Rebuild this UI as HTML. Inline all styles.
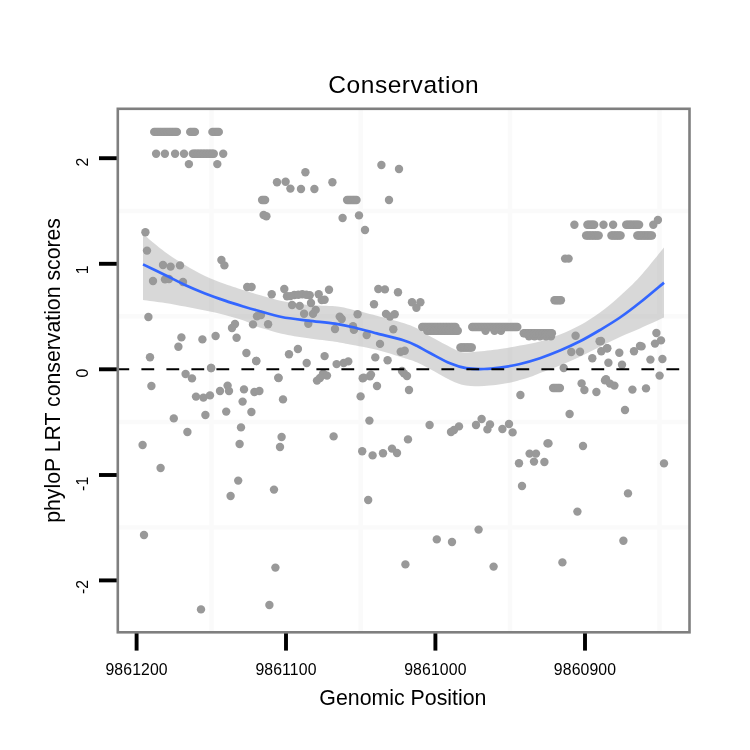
<!DOCTYPE html>
<html><head><meta charset="utf-8"><title>Conservation</title>
<style>
html,body{margin:0;padding:0;background:#fff;}
body{width:750px;height:750px;overflow:hidden;font-family:"Liberation Sans",sans-serif;}
svg{display:block;will-change:transform;}
text{font-family:"Liberation Sans",sans-serif;fill:#000;}
</style></head><body>
<svg width="750" height="750" viewBox="0 0 750 750">
<rect width="750" height="750" fill="#ffffff"/>
<g stroke="#fafafa" stroke-width="4.4"><line x1="211.5" y1="108.8" x2="211.5" y2="632.3"/><line x1="360.7" y1="108.8" x2="360.7" y2="632.3"/><line x1="510" y1="108.8" x2="510" y2="632.3"/><line x1="659.5" y1="108.8" x2="659.5" y2="632.3"/><line x1="117.8" y1="211" x2="689.5" y2="211"/><line x1="117.8" y1="316.3" x2="689.5" y2="316.3"/><line x1="117.8" y1="422" x2="689.5" y2="422"/><line x1="117.8" y1="527.4" x2="689.5" y2="527.4"/></g>
<g fill="#999999"><circle cx="156.1" cy="153.7" r="4.2"/><circle cx="164.9" cy="153.7" r="4.2"/><circle cx="175.1" cy="153.7" r="4.2"/><circle cx="184.0" cy="153.7" r="4.2"/><circle cx="223.2" cy="153.7" r="4.2"/><circle cx="188.9" cy="164.1" r="4.2"/><circle cx="217.3" cy="164.1" r="4.2"/><circle cx="154.2" cy="131.9" r="4.2"/><circle cx="155.7" cy="131.9" r="4.2"/><circle cx="157.2" cy="131.9" r="4.2"/><circle cx="158.7" cy="131.9" r="4.2"/><circle cx="160.2" cy="131.9" r="4.2"/><circle cx="161.7" cy="131.9" r="4.2"/><circle cx="163.3" cy="131.9" r="4.2"/><circle cx="164.8" cy="131.9" r="4.2"/><circle cx="166.3" cy="131.9" r="4.2"/><circle cx="167.8" cy="131.9" r="4.2"/><circle cx="169.3" cy="131.9" r="4.2"/><circle cx="170.8" cy="131.9" r="4.2"/><circle cx="172.4" cy="131.9" r="4.2"/><circle cx="173.9" cy="131.9" r="4.2"/><circle cx="175.4" cy="131.9" r="4.2"/><circle cx="176.9" cy="131.9" r="4.2"/><circle cx="190.2" cy="131.9" r="4.2"/><circle cx="191.7" cy="131.9" r="4.2"/><circle cx="193.3" cy="131.9" r="4.2"/><circle cx="194.9" cy="131.9" r="4.2"/><circle cx="212.4" cy="131.9" r="4.2"/><circle cx="214.0" cy="131.9" r="4.2"/><circle cx="215.6" cy="131.9" r="4.2"/><circle cx="217.2" cy="131.9" r="4.2"/><circle cx="218.8" cy="131.9" r="4.2"/><circle cx="192.8" cy="153.7" r="4.2"/><circle cx="194.3" cy="153.7" r="4.2"/><circle cx="195.8" cy="153.7" r="4.2"/><circle cx="197.3" cy="153.7" r="4.2"/><circle cx="198.8" cy="153.7" r="4.2"/><circle cx="200.3" cy="153.7" r="4.2"/><circle cx="201.8" cy="153.7" r="4.2"/><circle cx="203.3" cy="153.7" r="4.2"/><circle cx="204.8" cy="153.7" r="4.2"/><circle cx="206.3" cy="153.7" r="4.2"/><circle cx="207.8" cy="153.7" r="4.2"/><circle cx="209.3" cy="153.7" r="4.2"/><circle cx="210.8" cy="153.7" r="4.2"/><circle cx="212.3" cy="153.7" r="4.2"/><circle cx="213.8" cy="153.7" r="4.2"/><circle cx="381.4" cy="165.0" r="4.2"/><circle cx="399.0" cy="169.0" r="4.2"/><circle cx="305.4" cy="172.2" r="4.2"/><circle cx="277.0" cy="182.2" r="4.2"/><circle cx="285.6" cy="181.8" r="4.2"/><circle cx="332.4" cy="182.2" r="4.2"/><circle cx="290.4" cy="188.6" r="4.2"/><circle cx="301.0" cy="189.0" r="4.2"/><circle cx="314.4" cy="189.0" r="4.2"/><circle cx="389.0" cy="200.0" r="4.2"/><circle cx="263.6" cy="215.0" r="4.2"/><circle cx="266.4" cy="216.2" r="4.2"/><circle cx="359.0" cy="215.4" r="4.2"/><circle cx="342.6" cy="218.0" r="4.2"/><circle cx="365.0" cy="230.0" r="4.2"/><circle cx="262.1" cy="200.0" r="4.2"/><circle cx="263.6" cy="200.0" r="4.2"/><circle cx="265.1" cy="200.0" r="4.2"/><circle cx="347.1" cy="200.0" r="4.2"/><circle cx="348.7" cy="200.0" r="4.2"/><circle cx="350.2" cy="200.0" r="4.2"/><circle cx="351.8" cy="200.0" r="4.2"/><circle cx="353.4" cy="200.0" r="4.2"/><circle cx="354.9" cy="200.0" r="4.2"/><circle cx="356.5" cy="200.0" r="4.2"/><circle cx="574.4" cy="224.8" r="4.2"/><circle cx="603.5" cy="224.8" r="4.2"/><circle cx="613.1" cy="224.8" r="4.2"/><circle cx="653.3" cy="224.8" r="4.2"/><circle cx="657.9" cy="220.0" r="4.2"/><circle cx="565.1" cy="258.6" r="4.2"/><circle cx="568.6" cy="258.6" r="4.2"/><circle cx="587.4" cy="224.8" r="4.2"/><circle cx="588.7" cy="224.8" r="4.2"/><circle cx="590.1" cy="224.8" r="4.2"/><circle cx="591.5" cy="224.8" r="4.2"/><circle cx="592.9" cy="224.8" r="4.2"/><circle cx="594.2" cy="224.8" r="4.2"/><circle cx="626.2" cy="224.8" r="4.2"/><circle cx="627.7" cy="224.8" r="4.2"/><circle cx="629.1" cy="224.8" r="4.2"/><circle cx="630.5" cy="224.8" r="4.2"/><circle cx="631.9" cy="224.8" r="4.2"/><circle cx="633.4" cy="224.8" r="4.2"/><circle cx="634.8" cy="224.8" r="4.2"/><circle cx="636.2" cy="224.8" r="4.2"/><circle cx="637.6" cy="224.8" r="4.2"/><circle cx="639.1" cy="224.8" r="4.2"/><circle cx="586.1" cy="235.5" r="4.2"/><circle cx="587.7" cy="235.5" r="4.2"/><circle cx="589.2" cy="235.5" r="4.2"/><circle cx="590.8" cy="235.5" r="4.2"/><circle cx="592.4" cy="235.5" r="4.2"/><circle cx="594.0" cy="235.5" r="4.2"/><circle cx="595.6" cy="235.5" r="4.2"/><circle cx="597.1" cy="235.5" r="4.2"/><circle cx="598.7" cy="235.5" r="4.2"/><circle cx="611.4" cy="235.5" r="4.2"/><circle cx="612.9" cy="235.5" r="4.2"/><circle cx="614.5" cy="235.5" r="4.2"/><circle cx="616.0" cy="235.5" r="4.2"/><circle cx="617.5" cy="235.5" r="4.2"/><circle cx="619.1" cy="235.5" r="4.2"/><circle cx="620.6" cy="235.5" r="4.2"/><circle cx="637.3" cy="235.5" r="4.2"/><circle cx="638.7" cy="235.5" r="4.2"/><circle cx="640.2" cy="235.5" r="4.2"/><circle cx="641.6" cy="235.5" r="4.2"/><circle cx="643.1" cy="235.5" r="4.2"/><circle cx="644.6" cy="235.5" r="4.2"/><circle cx="646.0" cy="235.5" r="4.2"/><circle cx="647.5" cy="235.5" r="4.2"/><circle cx="648.9" cy="235.5" r="4.2"/><circle cx="650.4" cy="235.5" r="4.2"/><circle cx="651.9" cy="235.5" r="4.2"/><circle cx="145.4" cy="232.2" r="4.2"/><circle cx="147.0" cy="250.6" r="4.2"/><circle cx="163.0" cy="265.0" r="4.2"/><circle cx="170.6" cy="266.6" r="4.2"/><circle cx="180.0" cy="265.4" r="4.2"/><circle cx="153.0" cy="281.0" r="4.2"/><circle cx="165.0" cy="279.4" r="4.2"/><circle cx="169.0" cy="279.0" r="4.2"/><circle cx="183.0" cy="282.0" r="4.2"/><circle cx="221.4" cy="260.0" r="4.2"/><circle cx="224.4" cy="265.4" r="4.2"/><circle cx="247.2" cy="287.0" r="4.2"/><circle cx="251.6" cy="287.0" r="4.2"/><circle cx="148.4" cy="317.0" r="4.2"/><circle cx="253.0" cy="324.4" r="4.2"/><circle cx="235.0" cy="324.0" r="4.2"/><circle cx="232.0" cy="328.0" r="4.2"/><circle cx="181.4" cy="337.4" r="4.2"/><circle cx="202.4" cy="339.4" r="4.2"/><circle cx="215.6" cy="336.0" r="4.2"/><circle cx="236.6" cy="337.8" r="4.2"/><circle cx="178.4" cy="346.8" r="4.2"/><circle cx="246.4" cy="353.0" r="4.2"/><circle cx="150.0" cy="357.2" r="4.2"/><circle cx="256.2" cy="361.0" r="4.2"/><circle cx="211.0" cy="368.0" r="4.2"/><circle cx="271.7" cy="294.3" r="4.2"/><circle cx="284.3" cy="289.0" r="4.2"/><circle cx="287.0" cy="296.3" r="4.2"/><circle cx="294.3" cy="295.0" r="4.2"/><circle cx="302.3" cy="294.3" r="4.2"/><circle cx="309.7" cy="295.3" r="4.2"/><circle cx="311.0" cy="303.0" r="4.2"/><circle cx="318.7" cy="294.3" r="4.2"/><circle cx="321.7" cy="300.1" r="4.2"/><circle cx="324.6" cy="299.8" r="4.2"/><circle cx="329.0" cy="289.7" r="4.2"/><circle cx="292.1" cy="305.0" r="4.2"/><circle cx="299.7" cy="305.9" r="4.2"/><circle cx="315.7" cy="309.9" r="4.2"/><circle cx="313.0" cy="313.9" r="4.2"/><circle cx="304.1" cy="313.7" r="4.2"/><circle cx="308.3" cy="323.7" r="4.2"/><circle cx="339.7" cy="316.6" r="4.2"/><circle cx="341.7" cy="319.0" r="4.2"/><circle cx="335.0" cy="329.0" r="4.2"/><circle cx="353.0" cy="326.3" r="4.2"/><circle cx="353.9" cy="329.9" r="4.2"/><circle cx="257.0" cy="316.3" r="4.2"/><circle cx="261.0" cy="315.0" r="4.2"/><circle cx="268.1" cy="324.3" r="4.2"/><circle cx="290.3" cy="296.1" r="4.2"/><circle cx="298.3" cy="294.7" r="4.2"/><circle cx="306.3" cy="294.7" r="4.2"/><circle cx="297.9" cy="349.0" r="4.2"/><circle cx="289.0" cy="354.3" r="4.2"/><circle cx="324.6" cy="356.1" r="4.2"/><circle cx="306.7" cy="363.0" r="4.2"/><circle cx="256.3" cy="361.0" r="4.2"/><circle cx="336.6" cy="364.1" r="4.2"/><circle cx="343.7" cy="363.0" r="4.2"/><circle cx="348.3" cy="361.4" r="4.2"/><circle cx="323.0" cy="373.7" r="4.2"/><circle cx="278.3" cy="377.7" r="4.2"/><circle cx="378.3" cy="289.0" r="4.2"/><circle cx="384.9" cy="289.4" r="4.2"/><circle cx="398.0" cy="292.3" r="4.2"/><circle cx="374.0" cy="304.3" r="4.2"/><circle cx="412.0" cy="302.3" r="4.2"/><circle cx="420.4" cy="302.3" r="4.2"/><circle cx="416.4" cy="307.7" r="4.2"/><circle cx="357.6" cy="314.3" r="4.2"/><circle cx="386.0" cy="313.9" r="4.2"/><circle cx="394.7" cy="314.3" r="4.2"/><circle cx="390.0" cy="316.6" r="4.2"/><circle cx="393.3" cy="329.3" r="4.2"/><circle cx="366.7" cy="335.0" r="4.2"/><circle cx="380.0" cy="343.9" r="4.2"/><circle cx="400.7" cy="351.7" r="4.2"/><circle cx="404.7" cy="350.7" r="4.2"/><circle cx="375.3" cy="357.4" r="4.2"/><circle cx="387.6" cy="360.3" r="4.2"/><circle cx="370.0" cy="376.3" r="4.2"/><circle cx="404.0" cy="373.4" r="4.2"/><circle cx="362.7" cy="378.3" r="4.2"/><circle cx="485.5" cy="330.7" r="4.2"/><circle cx="494.5" cy="330.7" r="4.2"/><circle cx="501.0" cy="330.7" r="4.2"/><circle cx="529.0" cy="336.2" r="4.2"/><circle cx="534.5" cy="336.2" r="4.2"/><circle cx="540.0" cy="336.2" r="4.2"/><circle cx="551.0" cy="336.4" r="4.2"/><circle cx="546.0" cy="336.2" r="4.2"/><circle cx="422.2" cy="327.0" r="4.2"/><circle cx="423.7" cy="327.0" r="4.2"/><circle cx="425.2" cy="327.0" r="4.2"/><circle cx="426.7" cy="327.0" r="4.2"/><circle cx="428.3" cy="327.0" r="4.2"/><circle cx="429.8" cy="327.0" r="4.2"/><circle cx="431.3" cy="327.0" r="4.2"/><circle cx="432.8" cy="327.0" r="4.2"/><circle cx="434.3" cy="327.0" r="4.2"/><circle cx="435.8" cy="327.0" r="4.2"/><circle cx="437.3" cy="327.0" r="4.2"/><circle cx="438.9" cy="327.0" r="4.2"/><circle cx="440.4" cy="327.0" r="4.2"/><circle cx="441.9" cy="327.0" r="4.2"/><circle cx="443.4" cy="327.0" r="4.2"/><circle cx="444.9" cy="327.0" r="4.2"/><circle cx="446.4" cy="327.0" r="4.2"/><circle cx="447.9" cy="327.0" r="4.2"/><circle cx="449.4" cy="327.0" r="4.2"/><circle cx="451.0" cy="327.0" r="4.2"/><circle cx="452.5" cy="327.0" r="4.2"/><circle cx="454.0" cy="327.0" r="4.2"/><circle cx="455.5" cy="327.0" r="4.2"/><circle cx="427.2" cy="330.7" r="4.2"/><circle cx="428.7" cy="330.7" r="4.2"/><circle cx="430.3" cy="330.7" r="4.2"/><circle cx="431.8" cy="330.7" r="4.2"/><circle cx="433.3" cy="330.7" r="4.2"/><circle cx="434.9" cy="330.7" r="4.2"/><circle cx="436.4" cy="330.7" r="4.2"/><circle cx="437.9" cy="330.7" r="4.2"/><circle cx="439.4" cy="330.7" r="4.2"/><circle cx="441.0" cy="330.7" r="4.2"/><circle cx="442.5" cy="330.7" r="4.2"/><circle cx="444.0" cy="330.7" r="4.2"/><circle cx="445.6" cy="330.7" r="4.2"/><circle cx="447.1" cy="330.7" r="4.2"/><circle cx="448.6" cy="330.7" r="4.2"/><circle cx="450.1" cy="330.7" r="4.2"/><circle cx="451.7" cy="330.7" r="4.2"/><circle cx="453.2" cy="330.7" r="4.2"/><circle cx="454.7" cy="330.7" r="4.2"/><circle cx="456.3" cy="330.7" r="4.2"/><circle cx="457.8" cy="330.7" r="4.2"/><circle cx="460.4" cy="347.5" r="4.2"/><circle cx="461.8" cy="347.5" r="4.2"/><circle cx="463.2" cy="347.5" r="4.2"/><circle cx="464.7" cy="347.5" r="4.2"/><circle cx="466.1" cy="347.5" r="4.2"/><circle cx="467.5" cy="347.5" r="4.2"/><circle cx="468.9" cy="347.5" r="4.2"/><circle cx="470.4" cy="347.5" r="4.2"/><circle cx="471.8" cy="347.5" r="4.2"/><circle cx="472.2" cy="327.0" r="4.2"/><circle cx="473.7" cy="327.0" r="4.2"/><circle cx="475.2" cy="327.0" r="4.2"/><circle cx="476.7" cy="327.0" r="4.2"/><circle cx="478.2" cy="327.0" r="4.2"/><circle cx="479.7" cy="327.0" r="4.2"/><circle cx="481.2" cy="327.0" r="4.2"/><circle cx="482.7" cy="327.0" r="4.2"/><circle cx="484.2" cy="327.0" r="4.2"/><circle cx="485.7" cy="327.0" r="4.2"/><circle cx="487.2" cy="327.0" r="4.2"/><circle cx="488.7" cy="327.0" r="4.2"/><circle cx="490.2" cy="327.0" r="4.2"/><circle cx="491.7" cy="327.0" r="4.2"/><circle cx="493.2" cy="327.0" r="4.2"/><circle cx="494.8" cy="327.0" r="4.2"/><circle cx="496.3" cy="327.0" r="4.2"/><circle cx="497.8" cy="327.0" r="4.2"/><circle cx="499.3" cy="327.0" r="4.2"/><circle cx="500.8" cy="327.0" r="4.2"/><circle cx="502.3" cy="327.0" r="4.2"/><circle cx="503.8" cy="327.0" r="4.2"/><circle cx="505.3" cy="327.0" r="4.2"/><circle cx="506.8" cy="327.0" r="4.2"/><circle cx="508.3" cy="327.0" r="4.2"/><circle cx="509.8" cy="327.0" r="4.2"/><circle cx="511.3" cy="327.0" r="4.2"/><circle cx="512.8" cy="327.0" r="4.2"/><circle cx="514.3" cy="327.0" r="4.2"/><circle cx="515.8" cy="327.0" r="4.2"/><circle cx="517.3" cy="327.0" r="4.2"/><circle cx="523.7" cy="333.3" r="4.2"/><circle cx="525.2" cy="333.3" r="4.2"/><circle cx="526.7" cy="333.3" r="4.2"/><circle cx="528.2" cy="333.3" r="4.2"/><circle cx="529.6" cy="333.3" r="4.2"/><circle cx="531.1" cy="333.3" r="4.2"/><circle cx="532.6" cy="333.3" r="4.2"/><circle cx="534.1" cy="333.3" r="4.2"/><circle cx="535.6" cy="333.3" r="4.2"/><circle cx="537.1" cy="333.3" r="4.2"/><circle cx="538.5" cy="333.3" r="4.2"/><circle cx="540.0" cy="333.3" r="4.2"/><circle cx="541.5" cy="333.3" r="4.2"/><circle cx="543.0" cy="333.3" r="4.2"/><circle cx="544.5" cy="333.3" r="4.2"/><circle cx="546.0" cy="333.3" r="4.2"/><circle cx="547.4" cy="333.3" r="4.2"/><circle cx="548.9" cy="333.3" r="4.2"/><circle cx="550.4" cy="333.3" r="4.2"/><circle cx="551.9" cy="333.3" r="4.2"/><circle cx="575.6" cy="335.7" r="4.2"/><circle cx="599.6" cy="341.3" r="4.2"/><circle cx="571.3" cy="352.0" r="4.2"/><circle cx="580.0" cy="351.7" r="4.2"/><circle cx="601.3" cy="351.3" r="4.2"/><circle cx="607.3" cy="348.3" r="4.2"/><circle cx="619.3" cy="352.7" r="4.2"/><circle cx="634.0" cy="351.3" r="4.2"/><circle cx="640.0" cy="346.0" r="4.2"/><circle cx="592.3" cy="358.3" r="4.2"/><circle cx="608.4" cy="362.7" r="4.2"/><circle cx="622.0" cy="364.7" r="4.2"/><circle cx="563.7" cy="368.0" r="4.2"/><circle cx="606.0" cy="379.3" r="4.2"/><circle cx="554.5" cy="300.3" r="4.2"/><circle cx="556.1" cy="300.3" r="4.2"/><circle cx="557.7" cy="300.3" r="4.2"/><circle cx="559.3" cy="300.3" r="4.2"/><circle cx="560.9" cy="300.3" r="4.2"/><circle cx="656.4" cy="333.0" r="4.2"/><circle cx="661.0" cy="340.4" r="4.2"/><circle cx="655.0" cy="343.6" r="4.2"/><circle cx="641.6" cy="346.4" r="4.2"/><circle cx="607.0" cy="348.4" r="4.2"/><circle cx="601.0" cy="341.0" r="4.2"/><circle cx="650.4" cy="359.6" r="4.2"/><circle cx="662.4" cy="359.0" r="4.2"/><circle cx="659.6" cy="375.6" r="4.2"/><circle cx="211.2" cy="368.0" r="4.2"/><circle cx="185.6" cy="374.0" r="4.2"/><circle cx="192.0" cy="378.4" r="4.2"/><circle cx="151.4" cy="386.0" r="4.2"/><circle cx="227.6" cy="385.6" r="4.2"/><circle cx="229.0" cy="391.0" r="4.2"/><circle cx="220.0" cy="391.0" r="4.2"/><circle cx="244.0" cy="389.4" r="4.2"/><circle cx="254.4" cy="392.0" r="4.2"/><circle cx="259.4" cy="391.0" r="4.2"/><circle cx="196.0" cy="396.6" r="4.2"/><circle cx="203.4" cy="397.6" r="4.2"/><circle cx="210.0" cy="395.4" r="4.2"/><circle cx="242.6" cy="401.6" r="4.2"/><circle cx="226.2" cy="411.6" r="4.2"/><circle cx="251.4" cy="412.0" r="4.2"/><circle cx="205.4" cy="415.0" r="4.2"/><circle cx="173.8" cy="418.4" r="4.2"/><circle cx="241.0" cy="427.4" r="4.2"/><circle cx="187.4" cy="432.0" r="4.2"/><circle cx="142.6" cy="445.0" r="4.2"/><circle cx="239.6" cy="444.0" r="4.2"/><circle cx="160.6" cy="468.0" r="4.2"/><circle cx="238.2" cy="480.6" r="4.2"/><circle cx="230.6" cy="496.0" r="4.2"/><circle cx="278.6" cy="378.0" r="4.2"/><circle cx="324.0" cy="374.4" r="4.2"/><circle cx="327.0" cy="375.6" r="4.2"/><circle cx="320.0" cy="378.0" r="4.2"/><circle cx="317.0" cy="380.6" r="4.2"/><circle cx="371.0" cy="374.6" r="4.2"/><circle cx="363.6" cy="377.6" r="4.2"/><circle cx="402.0" cy="371.0" r="4.2"/><circle cx="407.0" cy="376.0" r="4.2"/><circle cx="377.0" cy="386.0" r="4.2"/><circle cx="409.0" cy="390.0" r="4.2"/><circle cx="283.0" cy="399.4" r="4.2"/><circle cx="360.6" cy="396.4" r="4.2"/><circle cx="369.4" cy="420.6" r="4.2"/><circle cx="281.6" cy="437.0" r="4.2"/><circle cx="280.0" cy="447.0" r="4.2"/><circle cx="333.6" cy="436.4" r="4.2"/><circle cx="408.0" cy="439.4" r="4.2"/><circle cx="362.2" cy="451.2" r="4.2"/><circle cx="372.6" cy="455.4" r="4.2"/><circle cx="383.0" cy="453.2" r="4.2"/><circle cx="392.0" cy="448.6" r="4.2"/><circle cx="397.0" cy="453.0" r="4.2"/><circle cx="274.0" cy="489.6" r="4.2"/><circle cx="368.2" cy="500.0" r="4.2"/><circle cx="520.4" cy="395.0" r="4.2"/><circle cx="429.6" cy="425.0" r="4.2"/><circle cx="459.0" cy="426.4" r="4.2"/><circle cx="454.0" cy="430.0" r="4.2"/><circle cx="451.0" cy="432.0" r="4.2"/><circle cx="481.6" cy="419.0" r="4.2"/><circle cx="476.0" cy="425.0" r="4.2"/><circle cx="490.0" cy="424.4" r="4.2"/><circle cx="487.4" cy="429.4" r="4.2"/><circle cx="509.0" cy="424.0" r="4.2"/><circle cx="502.4" cy="429.0" r="4.2"/><circle cx="512.6" cy="432.4" r="4.2"/><circle cx="529.6" cy="453.6" r="4.2"/><circle cx="536.0" cy="453.6" r="4.2"/><circle cx="534.0" cy="461.6" r="4.2"/><circle cx="544.4" cy="462.0" r="4.2"/><circle cx="519.0" cy="463.2" r="4.2"/><circle cx="522.0" cy="486.0" r="4.2"/><circle cx="581.6" cy="383.4" r="4.2"/><circle cx="584.4" cy="390.0" r="4.2"/><circle cx="596.4" cy="392.0" r="4.2"/><circle cx="605.0" cy="380.4" r="4.2"/><circle cx="610.0" cy="383.6" r="4.2"/><circle cx="614.4" cy="385.6" r="4.2"/><circle cx="632.4" cy="389.6" r="4.2"/><circle cx="646.0" cy="388.4" r="4.2"/><circle cx="569.6" cy="414.0" r="4.2"/><circle cx="625.0" cy="410.0" r="4.2"/><circle cx="583.0" cy="446.0" r="4.2"/><circle cx="664.0" cy="463.4" r="4.2"/><circle cx="628.0" cy="493.4" r="4.2"/><circle cx="577.4" cy="511.6" r="4.2"/><circle cx="553.1" cy="388.0" r="4.2"/><circle cx="554.8" cy="388.0" r="4.2"/><circle cx="556.5" cy="388.0" r="4.2"/><circle cx="558.2" cy="388.0" r="4.2"/><circle cx="559.9" cy="388.0" r="4.2"/><circle cx="547.5" cy="443.4" r="4.2"/><circle cx="548.5" cy="443.4" r="4.2"/><circle cx="144.0" cy="535.0" r="4.2"/><circle cx="201.0" cy="609.4" r="4.2"/><circle cx="275.4" cy="567.6" r="4.2"/><circle cx="269.4" cy="605.0" r="4.2"/><circle cx="405.4" cy="564.4" r="4.2"/><circle cx="436.8" cy="539.4" r="4.2"/><circle cx="452.0" cy="542.0" r="4.2"/><circle cx="478.6" cy="529.6" r="4.2"/><circle cx="493.6" cy="566.6" r="4.2"/><circle cx="623.4" cy="540.8" r="4.2"/><circle cx="562.4" cy="562.4" r="4.2"/></g>
<path d="M143.0,234.0 C146.7,237.0 158.0,246.8 165.0,252.0 C172.0,257.2 178.3,261.0 185.0,265.0 C191.7,269.0 198.3,272.8 205.0,276.0 C211.7,279.2 218.3,281.6 225.0,284.0 C231.7,286.4 240.0,289.0 245.0,290.6 C250.0,292.2 248.9,292.0 255.0,293.7 C261.1,295.4 272.8,299.1 281.7,301.0 C290.6,302.9 299.4,304.1 308.3,305.0 C317.2,305.9 328.1,305.6 335.0,306.3 C341.9,307.0 343.1,307.4 350.0,309.0 C356.9,310.6 367.8,313.4 376.7,315.7 C385.6,318.0 396.6,320.9 403.3,323.0 C410.0,325.1 412.2,326.1 416.7,328.3 C421.1,330.5 424.4,333.2 430.0,336.3 C435.6,339.4 444.7,344.4 450.0,347.0 C455.3,349.6 457.7,351.4 462.0,352.2 C466.3,353.0 469.7,352.3 476.0,351.8 C482.3,351.3 492.7,350.0 500.0,349.0 C507.3,348.0 513.3,346.9 520.0,345.6 C526.7,344.4 533.3,343.4 540.0,341.5 C546.7,339.6 553.3,337.2 560.0,334.5 C566.7,331.8 573.3,329.0 580.0,325.3 C586.7,321.6 593.3,317.4 600.0,312.5 C606.7,307.6 613.3,302.0 620.0,296.0 C626.7,290.0 632.7,284.6 640.0,276.5 C647.3,268.4 660.0,252.4 664.0,247.6 L664.0,317.6 C660.0,319.4 647.3,325.3 640.0,328.5 C632.7,331.7 626.7,333.9 620.0,337.0 C613.3,340.1 606.7,343.5 600.0,346.8 C593.3,350.1 586.7,353.6 580.0,356.7 C573.3,359.8 566.7,362.8 560.0,365.5 C553.3,368.2 545.0,371.1 540.0,373.0 C535.0,374.9 535.3,375.3 530.0,377.0 C524.7,378.7 515.7,381.5 508.0,383.0 C500.3,384.5 491.0,385.6 484.0,386.0 C477.0,386.4 471.7,386.6 466.0,385.6 C460.3,384.6 456.0,382.8 450.0,380.0 C444.0,377.2 435.6,371.9 430.0,369.0 C424.4,366.1 421.1,364.2 416.7,362.3 C412.2,360.4 410.0,359.8 403.3,357.7 C396.6,355.6 385.6,351.9 376.7,349.7 C367.8,347.5 356.9,345.8 350.0,344.5 C343.1,343.2 341.9,342.7 335.0,341.7 C328.1,340.7 317.2,339.6 308.3,338.3 C299.4,337.0 288.9,335.2 281.7,333.7 C274.5,332.1 269.4,330.3 265.0,329.0 C260.6,327.7 258.3,327.3 255.0,326.0 C251.7,324.7 250.0,322.8 245.0,321.0 C240.0,319.2 231.7,316.7 225.0,315.0 C218.3,313.3 211.7,312.0 205.0,310.6 C198.3,309.2 191.7,307.9 185.0,306.6 C178.3,305.3 172.0,304.1 165.0,303.0 C158.0,301.9 146.7,300.5 143.0,300.0 Z" fill="#999999" fill-opacity="0.38"/>
<path d="M143.0,264.4 C146.7,266.2 158.0,271.6 165.0,275.0 C172.0,278.4 178.3,281.9 185.0,285.0 C191.7,288.1 198.3,290.8 205.0,293.4 C211.7,296.0 218.3,298.3 225.0,300.6 C231.7,302.9 239.2,305.2 245.0,307.0 C250.8,308.8 253.9,309.6 260.0,311.3 C266.1,313.0 273.6,315.4 281.7,317.0 C289.8,318.6 299.4,319.5 308.3,320.6 C317.2,321.7 327.7,322.6 335.0,323.7 C342.3,324.8 345.1,325.4 352.0,327.0 C358.9,328.6 368.1,331.2 376.7,333.4 C385.2,335.6 396.6,338.2 403.3,340.3 C410.0,342.4 412.2,343.6 416.7,345.7 C421.1,347.8 424.4,350.1 430.0,353.0 C435.6,355.9 444.0,360.8 450.0,363.3 C456.0,365.8 460.3,367.2 466.0,368.2 C471.7,369.1 478.3,369.1 484.0,369.0 C489.7,368.9 494.0,368.4 500.0,367.6 C506.0,366.8 513.3,365.6 520.0,364.0 C526.7,362.4 533.3,360.4 540.0,358.2 C546.7,355.9 553.3,353.3 560.0,350.5 C566.7,347.7 573.3,344.7 580.0,341.3 C586.7,337.9 593.3,334.0 600.0,330.0 C606.7,326.0 613.3,322.1 620.0,317.5 C626.7,312.9 632.7,308.3 640.0,302.5 C647.3,296.7 660.0,285.9 664.0,282.6" fill="none" stroke="#3366ff" stroke-width="2.7" stroke-linecap="butt" stroke-linejoin="round"/>
<line x1="116.4" y1="369.3" x2="689.5" y2="369.3" stroke="#000" stroke-width="2" stroke-dasharray="12.8 12.2"/>
<g stroke="#000" stroke-width="3.9"><line x1="136.6" y1="632.3" x2="136.6" y2="650.6"/><line x1="286" y1="632.3" x2="286" y2="650.6"/><line x1="435.4" y1="632.3" x2="435.4" y2="650.6"/><line x1="585" y1="632.3" x2="585" y2="650.6"/><line x1="99" y1="158.2" x2="117.8" y2="158.2"/><line x1="99" y1="263.8" x2="117.8" y2="263.8"/><line x1="99" y1="369.3" x2="117.8" y2="369.3"/><line x1="99" y1="475" x2="117.8" y2="475"/><line x1="99" y1="580.4" x2="117.8" y2="580.4"/></g>
<rect x="117.8" y="108.8" width="571.7" height="523.5" fill="none" stroke="#7f7f7f" stroke-width="2.6"/>
<g font-size="15.8px" letter-spacing="0.12"><text x="136.6" y="675.1" text-anchor="middle">9861200</text><text x="286" y="675.1" text-anchor="middle">9861100</text><text x="435.4" y="675.1" text-anchor="middle">9861000</text><text x="585" y="675.1" text-anchor="middle">9860900</text><text transform="translate(87.6,157.6) rotate(-90)" text-anchor="end">2</text><text transform="translate(87.6,265.4) rotate(-90)" text-anchor="end">1</text><text transform="translate(87.6,368.7) rotate(-90)" text-anchor="end">0</text><text transform="translate(87.6,476.59999999999997) rotate(-90)" text-anchor="end">-1</text><text transform="translate(87.6,579.8) rotate(-90)" text-anchor="end">-2</text></g>
<text x="328.3" y="92.6" font-size="24.5px" letter-spacing="0.55">Conservation</text>
<text x="402.9" y="704.9" font-size="21.33px" text-anchor="middle">Genomic Position</text>
<text transform="translate(60.2,370.4) rotate(-90)" font-size="21.25px" text-anchor="middle">phyloP LRT conservation scores</text>
</svg>
</body></html>
